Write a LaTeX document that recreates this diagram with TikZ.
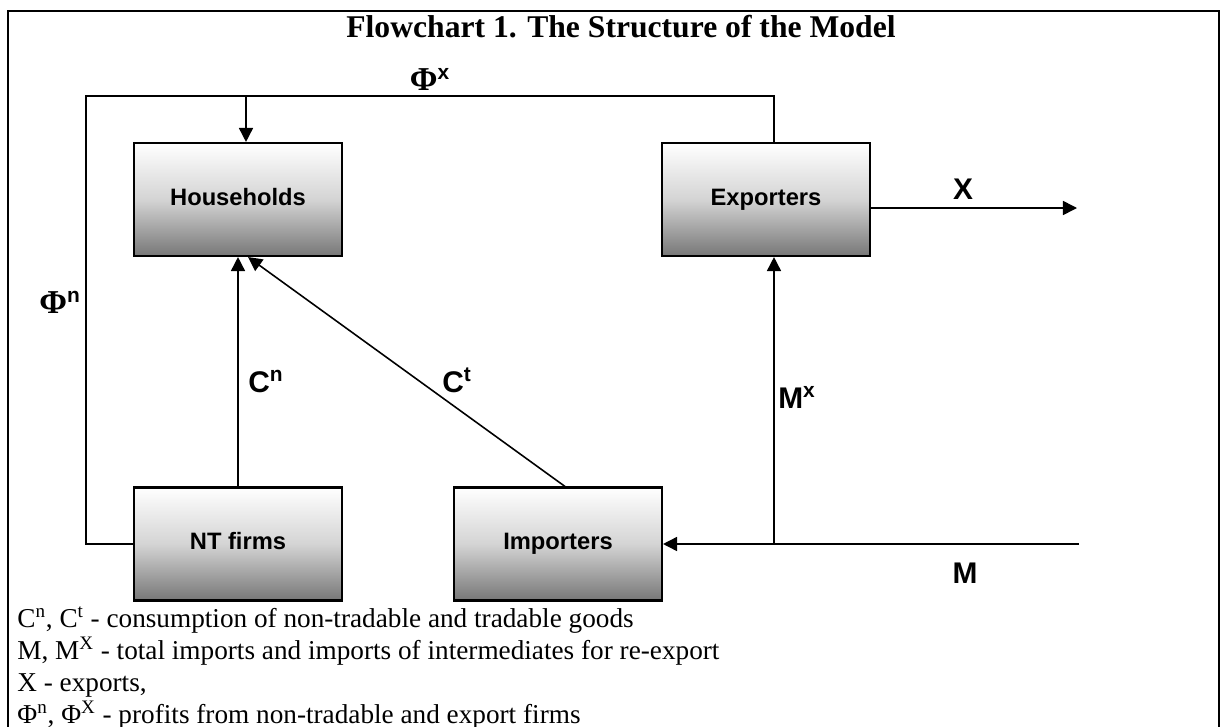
\documentclass[tikz,border=0pt]{standalone}
\usepackage{fontspec}
\setmainfont{Liberation Serif}
\setsansfont{Liberation Sans}
\usetikzlibrary{calc,arrows.meta}
\definecolor{boxtop}{HTML}{FFFFFF}
\definecolor{boxmid}{HTML}{D4D4D4}
\definecolor{boxbot}{HTML}{777777}
\tikzset{
  frame/.style={draw=black, line width=1.2pt},
  box/.style={draw=black, line width=1.2pt, top color=boxtop, bottom color=boxbot, middle color=boxmid,
    minimum width=4.16cm, minimum height=2.26cm, inner sep=0pt, text height=1.8ex, text depth=0.4ex,
    font=\sffamily\bfseries\fontsize{13.5}{15}\selectfont},
  flow/.style={draw=black, line width=0.9pt},
  arr/.style={flow, -{Triangle[length=8pt,width=8pt]}},
  lab/.style={font=\sffamily\bfseries\fontsize{17}{19}\selectfont, inner sep=0pt},
  ttl/.style={font=\bfseries\fontsize{18}{20}\selectfont},
  leg/.style={font=\fontsize{15.5}{17}\selectfont, anchor=base west, inner sep=0pt},
}
\newcommand{\phisym}{{\rmfamily\fontsize{19}{21}\selectfont Φ}}

\begin{document}
\begin{tikzpicture}[x=0.02cm,y=-0.02cm]
  \useasboundingbox (0,0) rectangle (1225,727);
  % frame, its bottom edge runs off the page
  \draw[frame] (8,760) -- (8,11) -- (1219,11) -- (1219,760);
  \node[ttl] (title) at (621,27) {Flowchart 1. The Structure of the Model};

  \node[box] (hh)  at (238,199.5) {Households};
  \node[box] (exp) at (766,199.5) {Exporters};
  \node[box] (nt)  at (238,544) {NT firms};
  \node[box] (imp) at (558,544) {Importers};

  \coordinate (tl) at (86,96);
  \coordinate (tr) at (774,96);
  \coordinate (tj) at (246,96);
  \coordinate (mj) at (774,544);
  \coordinate (min) at (1079,544);
  \coordinate (xout) at (1077,208);

  % profits back to households
  \draw[flow] (nt.west) -| (tl) -- (tr) -- (tr |- exp.north);
  \draw[arr] (tj) -- (tj |- hh.north);
  % consumption
  \draw[arr] (nt.north) -- (hh.south);
  \draw[arr] ($(imp.north)+(7,0)$) -- ($(hh.south)+(10,0)$);
  % imports and exports
  \draw[arr] (min) -- (imp.east);
  \draw[arr] (mj) -- (mj |- exp.south);
  \draw[arr] (xout -| exp.east) -- (xout);

  \node[lab] (phix) at (430,79) {\phisym\textsuperscript{x}};
  \node[lab] (phin) at (60,302) {\phisym\textsuperscript{n}};
  \node[lab] (cn) at (266,382) {C\textsuperscript{n}};
  \node[lab] (ct) at (457,380) {C\textsuperscript{t}};
  \node[lab] (mx) at (797,397) {M\textsuperscript{x}};
  \node[lab] (xl) at (963,189) {X};
  \node[lab] (ml) at (965,573) {M};

  \node[leg] (leg1) at (17,627) {C\textsuperscript{n}, C\textsuperscript{t} - consumption of non-tradable and tradable goods};
  \node[leg] (leg2) at (17,659) {M, M\textsuperscript{X} - total imports and imports of intermediates for re-export};
  \node[leg] (leg3) at (17,691) {X - exports,};
  \node[leg] (leg4) at (17,723) {Φ\textsuperscript{n}, Φ\textsuperscript{X} - profits from non-tradable and export firms};
\end{tikzpicture}
\end{document}
